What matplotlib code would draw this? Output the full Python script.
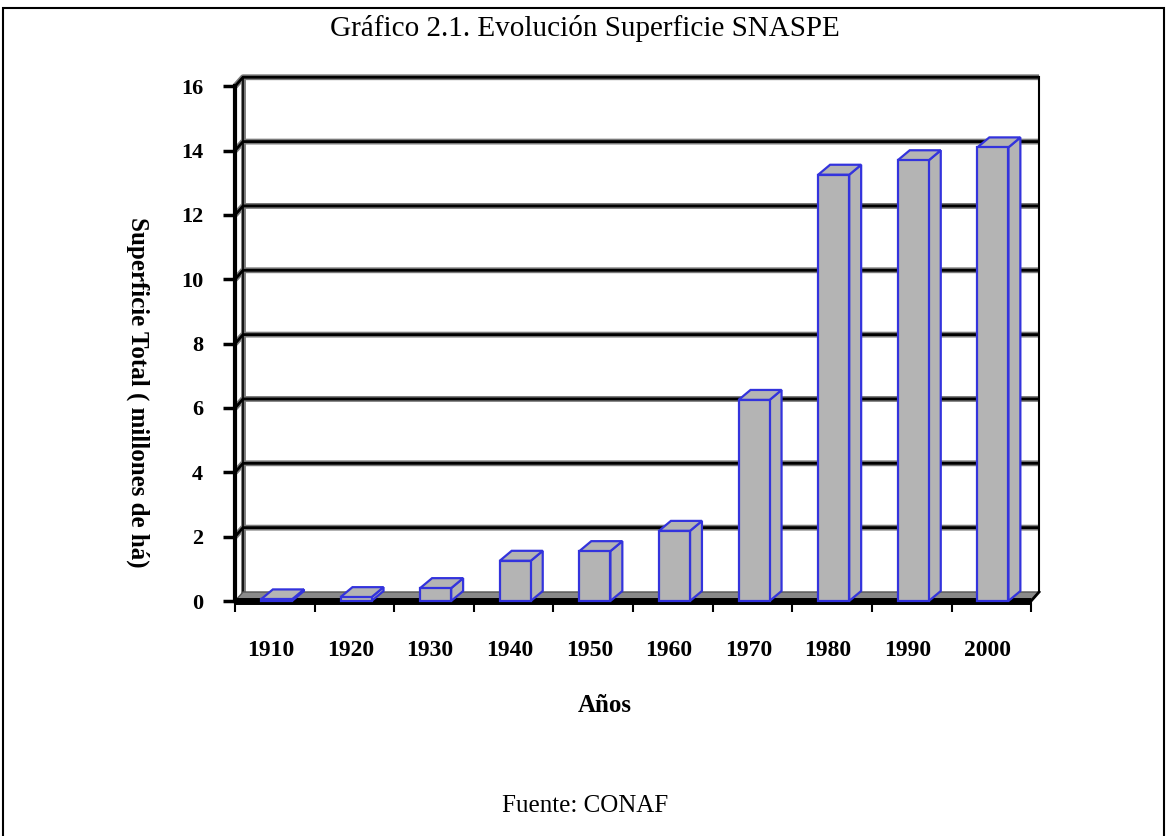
import matplotlib.pyplot as plt
from matplotlib.patches import Polygon, Rectangle

years = ["1910", "1920", "1930", "1940", "1950", "1960", "1970", "1980", "1990", "2000"]
superficie = [0.05, 0.12, 0.4, 1.25, 1.55, 2.18, 6.25, 13.25, 13.7, 14.1]
yticks = [0, 2, 4, 6, 8, 10, 12, 14, 16]

plt.rcParams['font.family'] = ['Liberation Serif', 'DejaVu Serif']

fig = plt.figure(figsize=(11.7, 8.36), dpi=100)
ax = fig.add_axes([0.2009, 0.2811, 0.6906, 0.6292])
ax.set_xlim(0, 10.15)
ax.set_ylim(0, 16.35)

# 3d offsets (data units)
wdx, wdy = 0.1, 0.28    # back wall
bdx, bdy = 0.15, 0.31   # bar depth
bw = 0.39
n = len(years)
xend = n

# back wall gridlines with side-wall diagonal
for v in yticks[1:]:
    xs = [0, wdx, xend + wdx]
    ys = [v, v + wdy, v + wdy]
    ax.plot(xs, ys, color='#7a7a7a', lw=4.2, solid_capstyle='butt', clip_on=False, zorder=1)
    ax.plot(xs, ys, color='black', lw=2.0, solid_capstyle='butt', clip_on=False, zorder=1.1)

# walls edges
ax.plot([wdx, wdx], [wdy, 16 + wdy], color='#7a7a7a', lw=3.5, clip_on=False, zorder=1)
ax.plot([wdx, wdx], [wdy, 16 + wdy], color='black', lw=1.2, clip_on=False, zorder=1.1)
ax.plot([xend + wdx, xend + wdx], [wdy, 16 + wdy], color='black', lw=1.5, clip_on=False, zorder=1)

# floor
ax.add_patch(Polygon([(0, 0), (wdx, wdy), (xend + wdx, wdy), (xend, 0)],
                     closed=True, facecolor='#8a8a8a', edgecolor='#555555', lw=1, clip_on=False, zorder=1.2))
ax.plot([0, xend], [0, 0], color='black', lw=5, solid_capstyle='butt', clip_on=False, zorder=2)
ax.plot([xend, xend + wdx], [0, wdy], color='black', lw=2, clip_on=False, zorder=2)

# bars: front faces via ax.bar, side and top faces as polygons
xc = [i + 0.52 for i in range(n)]
kw = dict(edgecolor='#3333dd', lw=1.6, clip_on=False, zorder=3)
for x, v in zip(xc, superficie):
    x1 = x + bw / 2
    x0 = x - bw / 2
    ax.add_patch(Polygon([(x1, 0), (x1 + bdx, bdy), (x1 + bdx, v + bdy), (x1, v)],
                         closed=True, facecolor='#b4b4b4', **kw))
    ax.add_patch(Polygon([(x0, v), (x0 + bdx, v + bdy), (x1 + bdx, v + bdy), (x1, v)],
                         closed=True, facecolor='#b4b4b4', **kw))
ax.bar(xc, superficie, width=bw, color='#b4b4b4', **kw)

for s in ['top', 'right', 'bottom']:
    ax.spines[s].set_visible(False)
ax.spines['left'].set_linewidth(3)
ax.spines['left'].set_bounds(0, 16)
ax.spines['left'].set_zorder(2)

ax.set_yticks(yticks)
ax.set_yticklabels([str(t) for t in yticks], fontsize=16, fontweight='bold')
ax.tick_params(axis='y', length=9, width=2.5, pad=14)

ax.set_xticks([i + 0.45 for i in range(n)])
ax.set_xticklabels(years, fontsize=17, fontweight='bold')
ax.tick_params(axis='x', length=0, pad=28)
ax.set_xticks(range(n + 1), minor=True)
ax.tick_params(axis='x', which='minor', length=8, width=1.5, direction='out')

fig.text(605 / 1170, 1 - 706 / 836, "Años", ha='center', va='center', fontsize=18, fontweight='bold')
fig.text(138 / 1170, 1 - 392 / 836, "Superficie Total ( millones de há)", ha='center', va='center',
         rotation=-90, fontsize=18, fontweight='bold')
fig.text(0.5, 1 - 28 / 836, "Gráfico 2.1. Evolución Superficie SNASPE", ha='center', va='center', fontsize=21)
fig.text(0.5, 1 - 806 / 836, "Fuente: CONAF", ha='center', va='center', fontsize=18)

# outer border
fig.patches.append(Rectangle((3 / 1170, -0.01), 1161 / 1170, 1 - 8 / 836 + 0.01, transform=fig.transFigure,
                             fill=False, edgecolor='black', lw=1.5))

fig.savefig("out.png", dpi=100)
